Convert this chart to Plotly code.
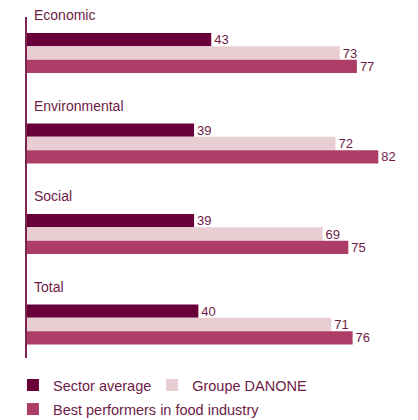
import plotly.graph_objects as go

# Sustainability rating by dimension (score out of 100)
categories = ["Economic", "Environmental", "Social", "Total"]
sector_average = [43, 39, 39, 40]
groupe_danone = [73, 72, 69, 71]
best_performers = [77, 82, 75, 76]

series_names = ["Sector average", "Groupe DANONE", "Best performers in food industry"]
series_values = [sector_average, groupe_danone, best_performers]
series_colors = ["#69003a", "#e8cdd2", "#ad3d67"]

FONT = "Liberation Sans, Arial, sans-serif"
TEXT_COLOR = "#6e1b47"

Y_RANGE = [3.37, -0.398]  # reversed category axis: first category on top
LABEL_OFFSET = 0.418      # group title sits this far (in category units) above the cluster centre

# one legend per series so the entries can be laid out on two rows
legend_ids = ["legend", "legend2", "legend3"]
legend_pos = [(0.031, 0.121), (0.364, 0.121), (0.031, 0.064)]

fig = go.Figure()
for name, vals, color, lid in zip(series_names, series_values, series_colors, legend_ids):
    fig.add_trace(go.Bar(
        name=name,
        y=categories,
        x=vals,
        orientation="h",
        legend=lid,
        marker=dict(color=color, line=dict(width=0)),
        text=[str(v) for v in vals],
        textposition="outside",
        textfont=dict(family=FONT, size=13, color=TEXT_COLOR),
        constraintext="none",
        cliponaxis=False,
    ))

# Group titles above each cluster of bars
span = Y_RANGE[0] - Y_RANGE[1]
for i, cat in enumerate(categories):
    fig.add_annotation(
        text=cat, xref="paper", x=0, xshift=5, xanchor="left",
        yref="paper", y=(Y_RANGE[0] - (i - LABEL_OFFSET)) / span, yanchor="middle",
        showarrow=False,
        font=dict(family=FONT, size=14, color=TEXT_COLOR),
    )

legend_style = dict(
    orientation="h", xref="container", yref="container",
    xanchor="left", yanchor="top",
    font=dict(family=FONT, size=14.5, color=TEXT_COLOR),
    bgcolor="rgba(0,0,0,0)", borderwidth=0,
)
layout_legends = {}
for lid, (lx, ly) in zip(legend_ids, legend_pos):
    layout_legends[lid] = dict(legend_style, x=lx, y=ly)

fig.update_layout(
    width=418, height=420,
    margin=dict(l=27, r=11, t=17, b=62),
    paper_bgcolor="white", plot_bgcolor="white",
    barmode="group", bargap=0.558, bargroupgap=0,
    showlegend=True,
    xaxis=dict(range=[0, 88.7], visible=False, fixedrange=True),
    yaxis=dict(
        type="category", categoryorder="array", categoryarray=categories,
        range=Y_RANGE, showticklabels=False, ticks="",
        showgrid=False, zeroline=False,
        showline=True, linecolor="#7a2450", linewidth=2,
    ),
    **layout_legends,
)

fig.write_html("out.html")
